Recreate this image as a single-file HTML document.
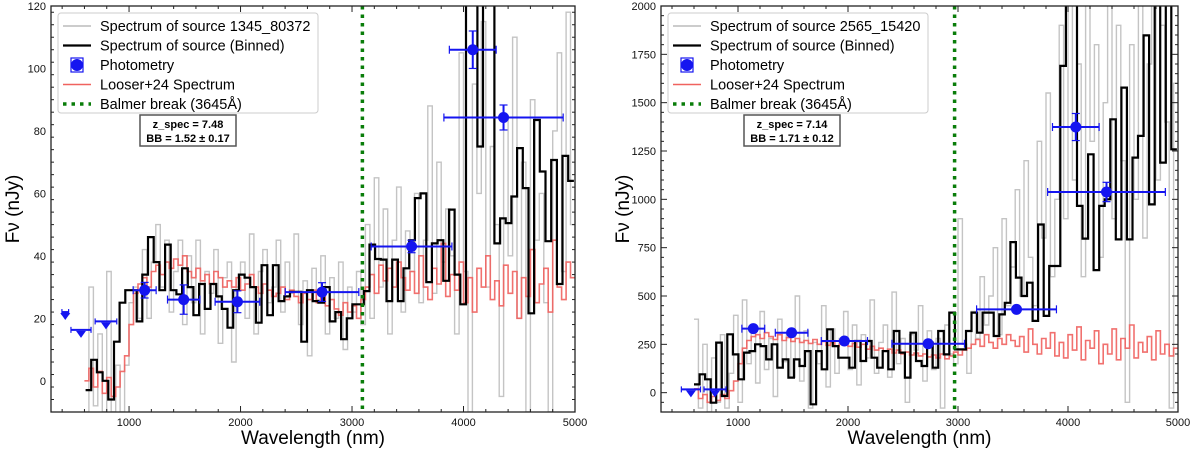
<!DOCTYPE html>
<html><head><meta charset="utf-8"><style>
body{margin:0;background:#fff;}
svg{display:block;font-family:"Liberation Sans",sans-serif;}
</style></head><body>
<svg id="fig" width="1200" height="449" viewBox="0 0 1200 449"></svg>
<script>
// ---- Left panel data ----
const gridStart = 600, gridStep = 40;
const leftBinned = [-3,6.7,2.7,0,-6,12.5,25,29,29,19,34,46,38,29,43.6,29,27.7,36,30,21,31,23,31,27,23,17,29,34,33,30,18.6,37,21,37,25.5,27,28.5,28.5,12.5,29,25.5,25,30,19,22,13.3,20,24.5,24.5,28.7,43.6,39,38.8,25.5,38.8,25.5,36,45,58.5,60,31.6,44,45,32,54.8,34,24.5,200,200,75,200,200,44,52,50.5,59,74.5,61.7,21.6,83.5,67,44.7,70.7,31,72,64];
const leftRed = [0,4,-2,3,-4,1,-5,-2, 3,8,18,28,31,
33,30,35,37,34,38,36,39,37,40, 35,33,36,32,34,31,35,33,30,32, 30,33,29,31,34,30,28,31,29,27,
28,30,26,29,27,25,28,26,29,25, 27,24,26,23,21,25,22,24,20,26, 30,34,28,37,32,36,30,38,33,29,
35,28,40,30,26,36,31,44,27,34, 29,38,25,33,22,36,30,40,26,32, 24,37,28,35,20,33,27,42,25,31,
36,22,45,30,26,38,33];
const leftGrey = [-10,30,-8,15,-10,35,-10,5, -10,5,25,30,20,
42,20,38,50,30,45,22,35,45,18, 40,25,45,15,35,28,42,12,33,38, 6,30,38,20,47,15,35,42,25,30,
45,22,38,28,47,18,32,8,36,26, 40,15,33,20,38,10,30,22,35,18, 50,20,65,30,55,15,45,62,22,48,
35,60,25,45,88,28,70,38,55,40, 15,105,35,-10,95,60,115,30,75,50, -5,85,40,110,20,70,-10,90,45,60,
25,-10,80,105,35,118,50];
const leftPhotWl = [1140,1490,1972,2731,3534,4083,4359];
const leftPhotF = [29,26,25.3,28.4,43,106,84.3];
const leftPhotXerr = [103,145,200,330,362,210,535];
const leftPhotYerr = [2.5,4.7,3.5,3,2,6,4];
const leftLimWl = [428,569,793];
const leftLimF = [22,16.3,19];
const leftLimXerr = [30,90,97];
const leftBalmer = 3093;
const leftYTicks = [0,20,40,60,80,100,120];
// ---- Right panel data ----
const rightBinned = [43,95,69,-52,259,-17,302,198,69,207,215,250,241,172,250,129,172,78,172,138,215,-60,215,121,328,241,181,181,129,267,164,267,181,129,215,121,319,207,78,310,164,138,259,129,319,198,414,224,224,319,414,310,414,414,293,405,465,779,595,500,569,371,870,397,655,655,1690,2100,2100,966,797,1233,634,966,1000,1414,793,1578,793,1216,1328,1848,974,2100,1190,2100,1259];
const rightRed = [20,-30,-10,-50,-20,-40,-10,-30, 10,60,150,230,270,
290,300,280,310,290,275,300,270,285,265, 280,260,270,255,275,250,265,245,260,240, 250,265,240,255,235,250,225,240,220,230,
215,225,205,220,200,210,195,205,190,200, 185,195,180,200,175,190,210,195,220,230, 250,275,240,300,260,230,280,250,300,270,
240,290,210,330,250,200,280,230,310,190, 260,180,300,220,340,170,270,230,320,150, 250,200,330,170,280,230,350,180,260,210,
290,170,320,200,250,190,230];
const rightGrey = [380,-80,250,-100,180,-50,300,-80, 100,400,-50,480,150,
350,50,420,120,280,-20,380,160,300,80, 500,60,320,-80,260,150,450,30,330,100, 280,420,120,350,40,300,180,480,100,260,
350,80,520,150,280,-50,300,220,450,60, 320,120,280,-80,350,200,150,900,250,100, 420,280,600,350,500,750,300,900,450,650,
1050,500,1200,700,450,1300,800,1550,600,1000, 1900,900,2100,1100,1700,600,2050,1300,1800,700, 1500,2100,900,1900,1200,-50,1800,1000,2100,800,
1700,2100,1100,1900,1400,-80,1600];
const rightPhotWl = [1139,1487,1967,2729,3532,4071,4350];
const rightPhotF = [331,310,267,253,431,1374,1038];
const rightPhotXerr = [104,148,210,330,363,212,535];
const rightPhotYerr = [10,10,10,10,15,70,50];
const rightLimWl = [572,791];
const rightLimF = [17,17];
const rightLimXerr = [87,100];
const rightBalmer = 2969;
const rightYTicks = [0,250,500,750,1000,1250,1500,1750,2000];
const xTicks = [1000,2000,3000,4000,5000];

const NS = "http://www.w3.org/2000/svg";
const svg = document.getElementById('fig');
function mk(tag, attrs, parent){const e=document.createElementNS(NS,tag);for(const k in attrs)e.setAttribute(k,attrs[k]);(parent||svg).appendChild(e);return e;}

function panel(cfg){
  const {id,x0,x1,y0,y1,xmin,xmax,ymin,ymax} = cfg;
  const X = v => x0 + (v-xmin)/(xmax-xmin)*(x1-x0);
  const Y = v => y1 - (v-ymin)/(ymax-ymin)*(y1-y0);
  const g = mk('g',{});
  
  
  const cp = mk('clipPath',{id:id+'clip'},g);
  mk('rect',{x:x0,y:y0,width:x1-x0,height:y1-y0},cp);
  const pg = mk('g',{'clip-path':'url(#'+id+'clip)'},g);
  // grey
  let d='';
  cfg.grey.forEach((v,i)=>{const w=gridStart+i*gridStep;d+=(i?'L':'M')+X(w).toFixed(1)+' '+Y(v).toFixed(1)+' L'+X(w+gridStep).toFixed(1)+' '+Y(v).toFixed(1)+' ';});
  const grey = mk('path',{d:d,fill:'none',stroke:'#c4c4c4','stroke-width':1.4},pg);
  
  
  // red
  d='';
  cfg.red.forEach((v,i)=>{const w=gridStart+i*gridStep;d+=(i?'L':'M')+X(w).toFixed(1)+' '+Y(v).toFixed(1)+' L'+X(w+gridStep).toFixed(1)+' '+Y(v).toFixed(1)+' ';});
  const red = mk('path',{d:d,fill:'none',stroke:'#f0625f','stroke-width':1.6,opacity:0.9},pg);
  
  
  // binned
  const bs = cfg.binStart, be = 4990, bw = (be-bs)/cfg.binned.length;
  d='';
  cfg.binned.forEach((v,i)=>{const w=bs+i*bw;d+=(i?'L':'M')+X(w).toFixed(1)+' '+Y(v).toFixed(1)+' L'+X(w+bw).toFixed(1)+' '+Y(v).toFixed(1)+' ';});
  const bin = mk('path',{d:d,fill:'none',stroke:'#000','stroke-width':2.2},pg);
  
  
  // balmer
  const bl = mk('line',{x1:X(cfg.balmer),x2:X(cfg.balmer),y1:y0,y2:y1,stroke:'#0a7d0a','stroke-width':3.5,'stroke-dasharray':'3.5 5'},pg);
  
  
  // photometry
  cfg.pw.forEach((w,i)=>{
    const pgp = mk('g',{stroke:'#1515f0','stroke-width':2,fill:'#1515f0'},pg);
    
    
    const cx=X(w), cy=Y(cfg.pf[i]);
    const xa=X(w-cfg.px[i]), xb=X(w+cfg.px[i]);
    mk('line',{x1:xa,x2:xb,y1:cy,y2:cy},pgp);
    mk('line',{x1:xa,x2:xa,y1:cy-4,y2:cy+4,'stroke-width':1.2},pgp);
    mk('line',{x1:xb,x2:xb,y1:cy-4,y2:cy+4,'stroke-width':1.2},pgp);
    const ya=Y(cfg.pf[i]+cfg.py[i]), yb=Y(cfg.pf[i]-cfg.py[i]);
    mk('line',{x1:cx,x2:cx,y1:ya,y2:yb},pgp);
    mk('line',{x1:cx-4,x2:cx+4,y1:ya,y2:ya,'stroke-width':1.2},pgp);
    mk('line',{x1:cx-4,x2:cx+4,y1:yb,y2:yb,'stroke-width':1.2},pgp);
    mk('circle',{cx:cx,cy:cy,r:5.5,stroke:'none'},pgp);
  });
  cfg.lw.forEach((w,i)=>{
    const lg = mk('g',{stroke:'#1515f0','stroke-width':2,fill:'#1515f0'},pg);
    
    
    const cx=X(w), cy=Y(cfg.lf[i]);
    const xa=X(w-cfg.lx[i]), xb=X(w+cfg.lx[i]);
    mk('line',{x1:xa,x2:xb,y1:cy,y2:cy},lg);
    mk('line',{x1:xa,x2:xa,y1:cy-3,y2:cy+3,'stroke-width':1.2},lg);
    mk('line',{x1:xb,x2:xb,y1:cy-3,y2:cy+3,'stroke-width':1.2},lg);
    mk('path',{d:`M${cx-5} ${cy+1}L${cx+5} ${cy+1}L${cx} ${cy+8}Z`,stroke:'none'},lg);
  });
  // frame
  mk('rect',{x:x0,y:y0,width:x1-x0,height:y1-y0,fill:'none',stroke:'#222','stroke-width':1.3},g);
  // x ticks
  for(let w=400;w<=5000;w+=200){
    const major = w%1000===0; const L = major?6:3; const px=X(w);
    if(px<x0) continue;
    mk('line',{x1:px,x2:px,y1:y1,y2:y1-L,stroke:'#222','stroke-width':1},g);
    mk('line',{x1:px,x2:px,y1:y0,y2:y0+L,stroke:'#222','stroke-width':1},g);
  }
  xTicks.forEach(t=>{
    const tx = mk('text',{x:X(t),y:y1+14,'text-anchor':'middle','font-size':11,fill:'#111'},g);
    tx.textContent=t;
    
    
  });
  const yt=cfg.yt, step=yt[1]-yt[0];
  for(let v=ymin;v<=ymax;v+=step/5){
    const r=Math.round(v*1000)/1000; const py=Y(r);
    const major = yt.some(t=>Math.abs(t-r)<1e-6); const L=major?6:3;
    mk('line',{x1:x0,x2:x0+L,y1:py,y2:py,stroke:'#222','stroke-width':1},g);
    mk('line',{x1:x1,x2:x1-L,y1:py,y2:py,stroke:'#222','stroke-width':1},g);
  }
  yt.forEach(t=>{
    const tx = mk('text',{x:x0-5,y:Y(t)+4,'text-anchor':'end','font-size':11,fill:'#111'},g);
    tx.textContent=t;
    
    
  });
  // axis titles
  const xt = mk('text',{x:(x0+x1)/2,y:444,'text-anchor':'middle','font-size':19,fill:'#000'},g);
  xt.textContent='Wavelength (nm)';
  
  
  const yx=x0-32, yy=(y0+y1)/2;
  const ytt = mk('text',{x:yx,y:yy,'text-anchor':'middle','font-size':19,fill:'#000',transform:`rotate(-90 ${yx} ${yy})`},g);
  ytt.textContent='Fν (nJy)';
  
  
  // legend
  const lx=x0+7, ly=13;
  const leg = mk('g',{},g);
  
  
  mk('rect',{x:lx,y:ly,width:260,height:100,rx:3,fill:'#fff','fill-opacity':0.85,stroke:'#ccc','stroke-width':1},leg);
  const entries=[['grey',cfg.label],['black','Spectrum of source (Binned)'],['phot','Photometry'],['red','Looser+24 Spectrum'],['green','Balmer break (3645Å)']];
  entries.forEach((e,i)=>{
    const ey=ly+13+i*19.5;
    const eg = mk('g',{},leg);
    
    
    const sx=lx+5, ex=lx+33;
    if(e[0]==='grey') mk('line',{x1:sx,x2:ex,y1:ey,y2:ey,stroke:'#bbb','stroke-width':1.5},eg);
    if(e[0]==='black') mk('line',{x1:sx,x2:ex,y1:ey,y2:ey,stroke:'#000','stroke-width':2.2},eg);
    if(e[0]==='red') mk('line',{x1:sx,x2:ex,y1:ey,y2:ey,stroke:'#f0625f','stroke-width':1.6},eg);
    if(e[0]==='green') mk('line',{x1:sx,x2:ex,y1:ey,y2:ey,stroke:'#0a7d0a','stroke-width':3.5,'stroke-dasharray':'3.5 5'},eg);
    if(e[0]==='phot'){mk('rect',{x:(sx+ex)/2-6,y:ey-7,width:12,height:14,fill:'none',stroke:'#1515f0','stroke-width':1.2},eg);mk('circle',{cx:(sx+ex)/2,cy:ey,r:6,fill:'#1515f0'},eg);}
    const t = mk('text',{x:lx+42,y:ey+5,'font-size':14.5,fill:'#000'},eg);
    t.textContent=e[1];
  });
  // annotation
  const ag = mk('g',{},g);
  
  
  mk('rect',{x:cfg.ax,y:115,width:96,height:31,fill:'#fff',stroke:'#555','stroke-width':1.5},ag);
  const a1 = mk('text',{x:cfg.ax+48,y:128,'text-anchor':'middle','font-size':11,'font-weight':'bold'},ag); a1.textContent=cfg.z;
  const a2 = mk('text',{x:cfg.ax+48,y:142,'text-anchor':'middle','font-size':11,'font-weight':'bold'},ag); a2.textContent=cfg.bb;
}

panel({id:'left',x0:51,x1:575,y0:6,y1:412,xmin:300,xmax:5000,ymin:-10,ymax:120,
  grey:leftGrey,red:leftRed,binned:leftBinned,binStart:610,balmer:leftBalmer,
  pw:leftPhotWl,pf:leftPhotF,px:leftPhotXerr,py:leftPhotYerr,lw:leftLimWl,lf:leftLimF,lx:leftLimXerr,
  yt:leftYTicks,label:'Spectrum of source 1345_80372',ax:140,z:'z_spec = 7.48',bb:'BB = 1.52 ± 0.17'});
panel({id:'right',x0:661,x1:1178,y0:6,y1:412,xmin:300,xmax:5000,ymin:-100,ymax:2000,
  grey:rightGrey,red:rightRed,binned:rightBinned,binStart:600,balmer:rightBalmer,
  pw:rightPhotWl,pf:rightPhotF,px:rightPhotXerr,py:rightPhotYerr,lw:rightLimWl,lf:rightLimF,lx:rightLimXerr,
  yt:rightYTicks,label:'Spectrum of source 2565_15420',ax:744,z:'z_spec = 7.14',bb:'BB = 1.71 ± 0.12'});
</script>
</body></html>
